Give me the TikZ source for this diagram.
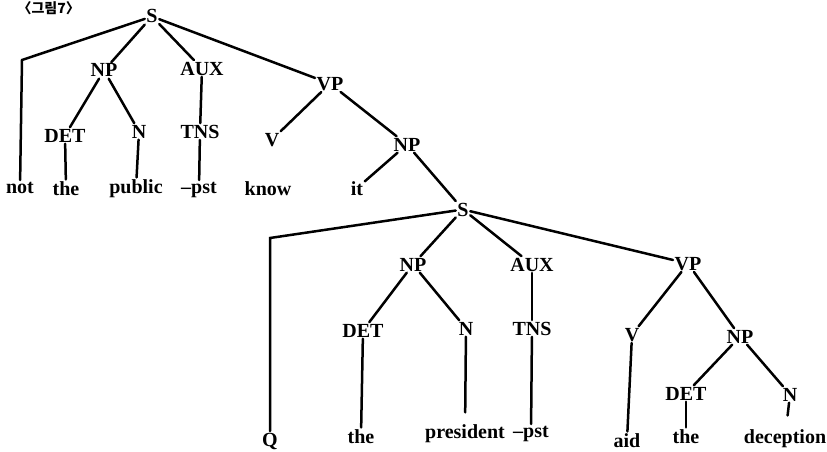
\documentclass[tikz,border=0pt]{standalone}
\usepackage{fontspec}
\setmainfont{Liberation Serif}
\newfontfamily\krfont{Noto Sans CJK KR}
\begin{document}
\begin{tikzpicture}[x=1pt,y=-1pt,
  lab/.style={font=\fontsize{20}{22}\selectfont\bfseries, inner sep=1.5pt, anchor=base},
  br/.style={line width=2.5pt, line cap=round}]
\useasboundingbox (0,0) rectangle (827,452);
% caption
\node[anchor=base east, inner sep=0pt, font=\krfont\bfseries\fontsize{14}{16}\selectfont] (fig) at (80,14) {〈그림7〉};
% upper tree
\node[lab] (S1) at (152,23) {S};
\node[lab] (NP1) at (104,77) {NP};
\node[lab] (AUX1) at (202,75) {AUX};
\node[lab] (VP1) at (330,90) {VP};
\node[lab] (DET1) at (65,142) {DET};
\node[lab] (N1) at (139,138) {N};
\node[lab] (TNS1) at (200,138) {TNS};
\node[lab] (V1) at (272,146) {V};
\node[lab] (NP2) at (407,151) {NP};
\node[lab] (not) at (20,193) {not};
\node[lab] (the1) at (66,195) {the};
\node[lab] (public) at (136,193) {public};
\node[lab] (pst1) at (199,193) {--pst};
\node[lab] (know) at (268,195) {know};
\node[lab] (it) at (357,195) {it};
\coordinate (cnot) at (22,60);
% lower tree
\node[lab] (S2) at (463,216) {S};
\node[lab] (NP3) at (413,271) {NP};
\node[lab] (AUX2) at (532,271) {AUX};
\node[lab] (VP2) at (688,270) {VP};
\node[lab] (DET2) at (363,337) {DET};
\node[lab] (N2) at (466,335) {N};
\node[lab] (TNS2) at (532,335) {TNS};
\node[lab] (V2) at (632,341) {V};
\node[lab] (NP4) at (740,343) {NP};
\node[lab] (DET3) at (686,400) {DET};
\node[lab] (N3) at (790,401) {N};
\node[lab] (Q) at (270,446) {Q};
\node[lab] (the2) at (361,443) {the};
\node[lab] (president) at (465,438) {president};
\node[lab] (pst2) at (531,437) {--pst};
\node[lab] (aid) at (627,447) {aid};
\node[lab] (the3) at (686,443) {the};
\node[lab] (deception) at (785,443) {deception};
\coordinate (cQ) at (270,238);
% connectors upper
\draw[br] (S1) -- (cnot) -- (not);
\draw[br] (S1) -- (NP1);
\draw[br] (S1) -- (AUX1);
\draw[br] (S1) -- (VP1);
\draw[br] (NP1) -- (DET1);
\draw[br] (NP1) -- (N1);
\draw[br] (AUX1) -- (TNS1);
\draw[br] (DET1) -- (the1);
\draw[br] (N1) -- (public);
\draw[br] (TNS1) -- (pst1);
\draw[br] (VP1) -- (V1);
\draw[br] (VP1) -- (NP2);
\draw[br] (NP2) -- (it);
\draw[br] (NP2) -- (S2);
% connectors lower
\draw[br] (S2) -- (cQ) -- (Q);
\draw[br] (S2) -- (NP3);
\draw[br] (S2) -- (AUX2);
\draw[br] (S2) -- (VP2);
\draw[br] (NP3) -- (DET2);
\draw[br] (NP3) -- (N2);
\draw[br] (AUX2) -- (TNS2);
\draw[br] (DET2) -- (the2);
\draw[br, shorten >=10pt] (N2) -- (president);
\draw[br] (TNS2) -- (pst2);
\draw[br] (VP2) -- (V2);
\draw[br] (VP2) -- (NP4);
\draw[br] (V2) -- (aid);
\draw[br] (NP4) -- (DET3);
\draw[br] (NP4) -- (N3);
\draw[br] (DET3) -- (the3);
\draw[br, shorten >=12pt] (N3) -- (deception);
\end{tikzpicture}
\end{document}
